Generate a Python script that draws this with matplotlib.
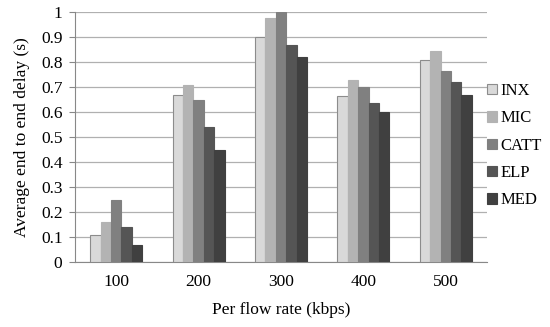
import matplotlib.pyplot as plt
import numpy as np

plt.rcParams['font.family'] = ['Liberation Serif', 'DejaVu Serif']

categories = ['100', '200', '300', '400', '500']
series = ['INX', 'MIC', 'CATT', 'ELP', 'MED']
values = {
    'INX': [0.11, 0.67, 0.90, 0.665, 0.81],
    'MIC': [0.16, 0.71, 0.975, 0.73, 0.845],
    'CATT': [0.25, 0.65, 1.00, 0.70, 0.765],
    'ELP': [0.14, 0.54, 0.87, 0.635, 0.72],
    'MED': [0.07, 0.45, 0.82, 0.60, 0.67],
}
colors = ['#d9d9d9', '#b3b3b3', '#808080', '#555555', '#404040']
edges = ['#8c8c8c', '#b3b3b3', '#808080', '#555555', '#404040']

fig = plt.figure(figsize=(5.5, 3.27), dpi=100)
ax = fig.add_axes([75 / 550, 1 - 262 / 327, 412 / 550, 250 / 327])

x = np.arange(len(categories))
w = 0.126
for i, s in enumerate(series):
    ax.bar(x + (i - 2) * w, values[s], w, color=colors[i], edgecolor=edges[i],
           linewidth=0.8, label=s, zorder=3)

ax.set_xlim(-0.5, 4.5)
ax.set_ylim(0, 1)
ax.set_yticks(np.arange(0, 1.01, 0.1))
ax.set_yticklabels(['0', '0.1', '0.2', '0.3', '0.4', '0.5', '0.6', '0.7', '0.8', '0.9', '1'])
ax.set_xticks(x)
ax.set_xticklabels(categories)
ax.tick_params(axis='y', length=4, color='#888888', labelsize=12.5, pad=5)
ax.tick_params(axis='x', length=0, labelsize=12.5, pad=9)
ax.grid(axis='y', color='#b0b0b0', linewidth=0.9, zorder=0)
for sp in ['top', 'right']:
    ax.spines[sp].set_visible(False)
ax.spines['left'].set_color('#888888')
ax.spines['bottom'].set_color('#888888')

ax.set_ylabel('Average end to end delay (s)', fontsize=12.5, labelpad=8)
ax.set_xlabel('Per flow rate (kbps)', fontsize=12.5, labelpad=8)

ax.legend(loc='center left', bbox_to_anchor=(0.985, 0.465), frameon=False,
          fontsize=12, handlelength=0.6, handleheight=0.6, handletextpad=0.2,
          labelspacing=0.68, borderaxespad=0)

fig.savefig('out.png', dpi=100)
